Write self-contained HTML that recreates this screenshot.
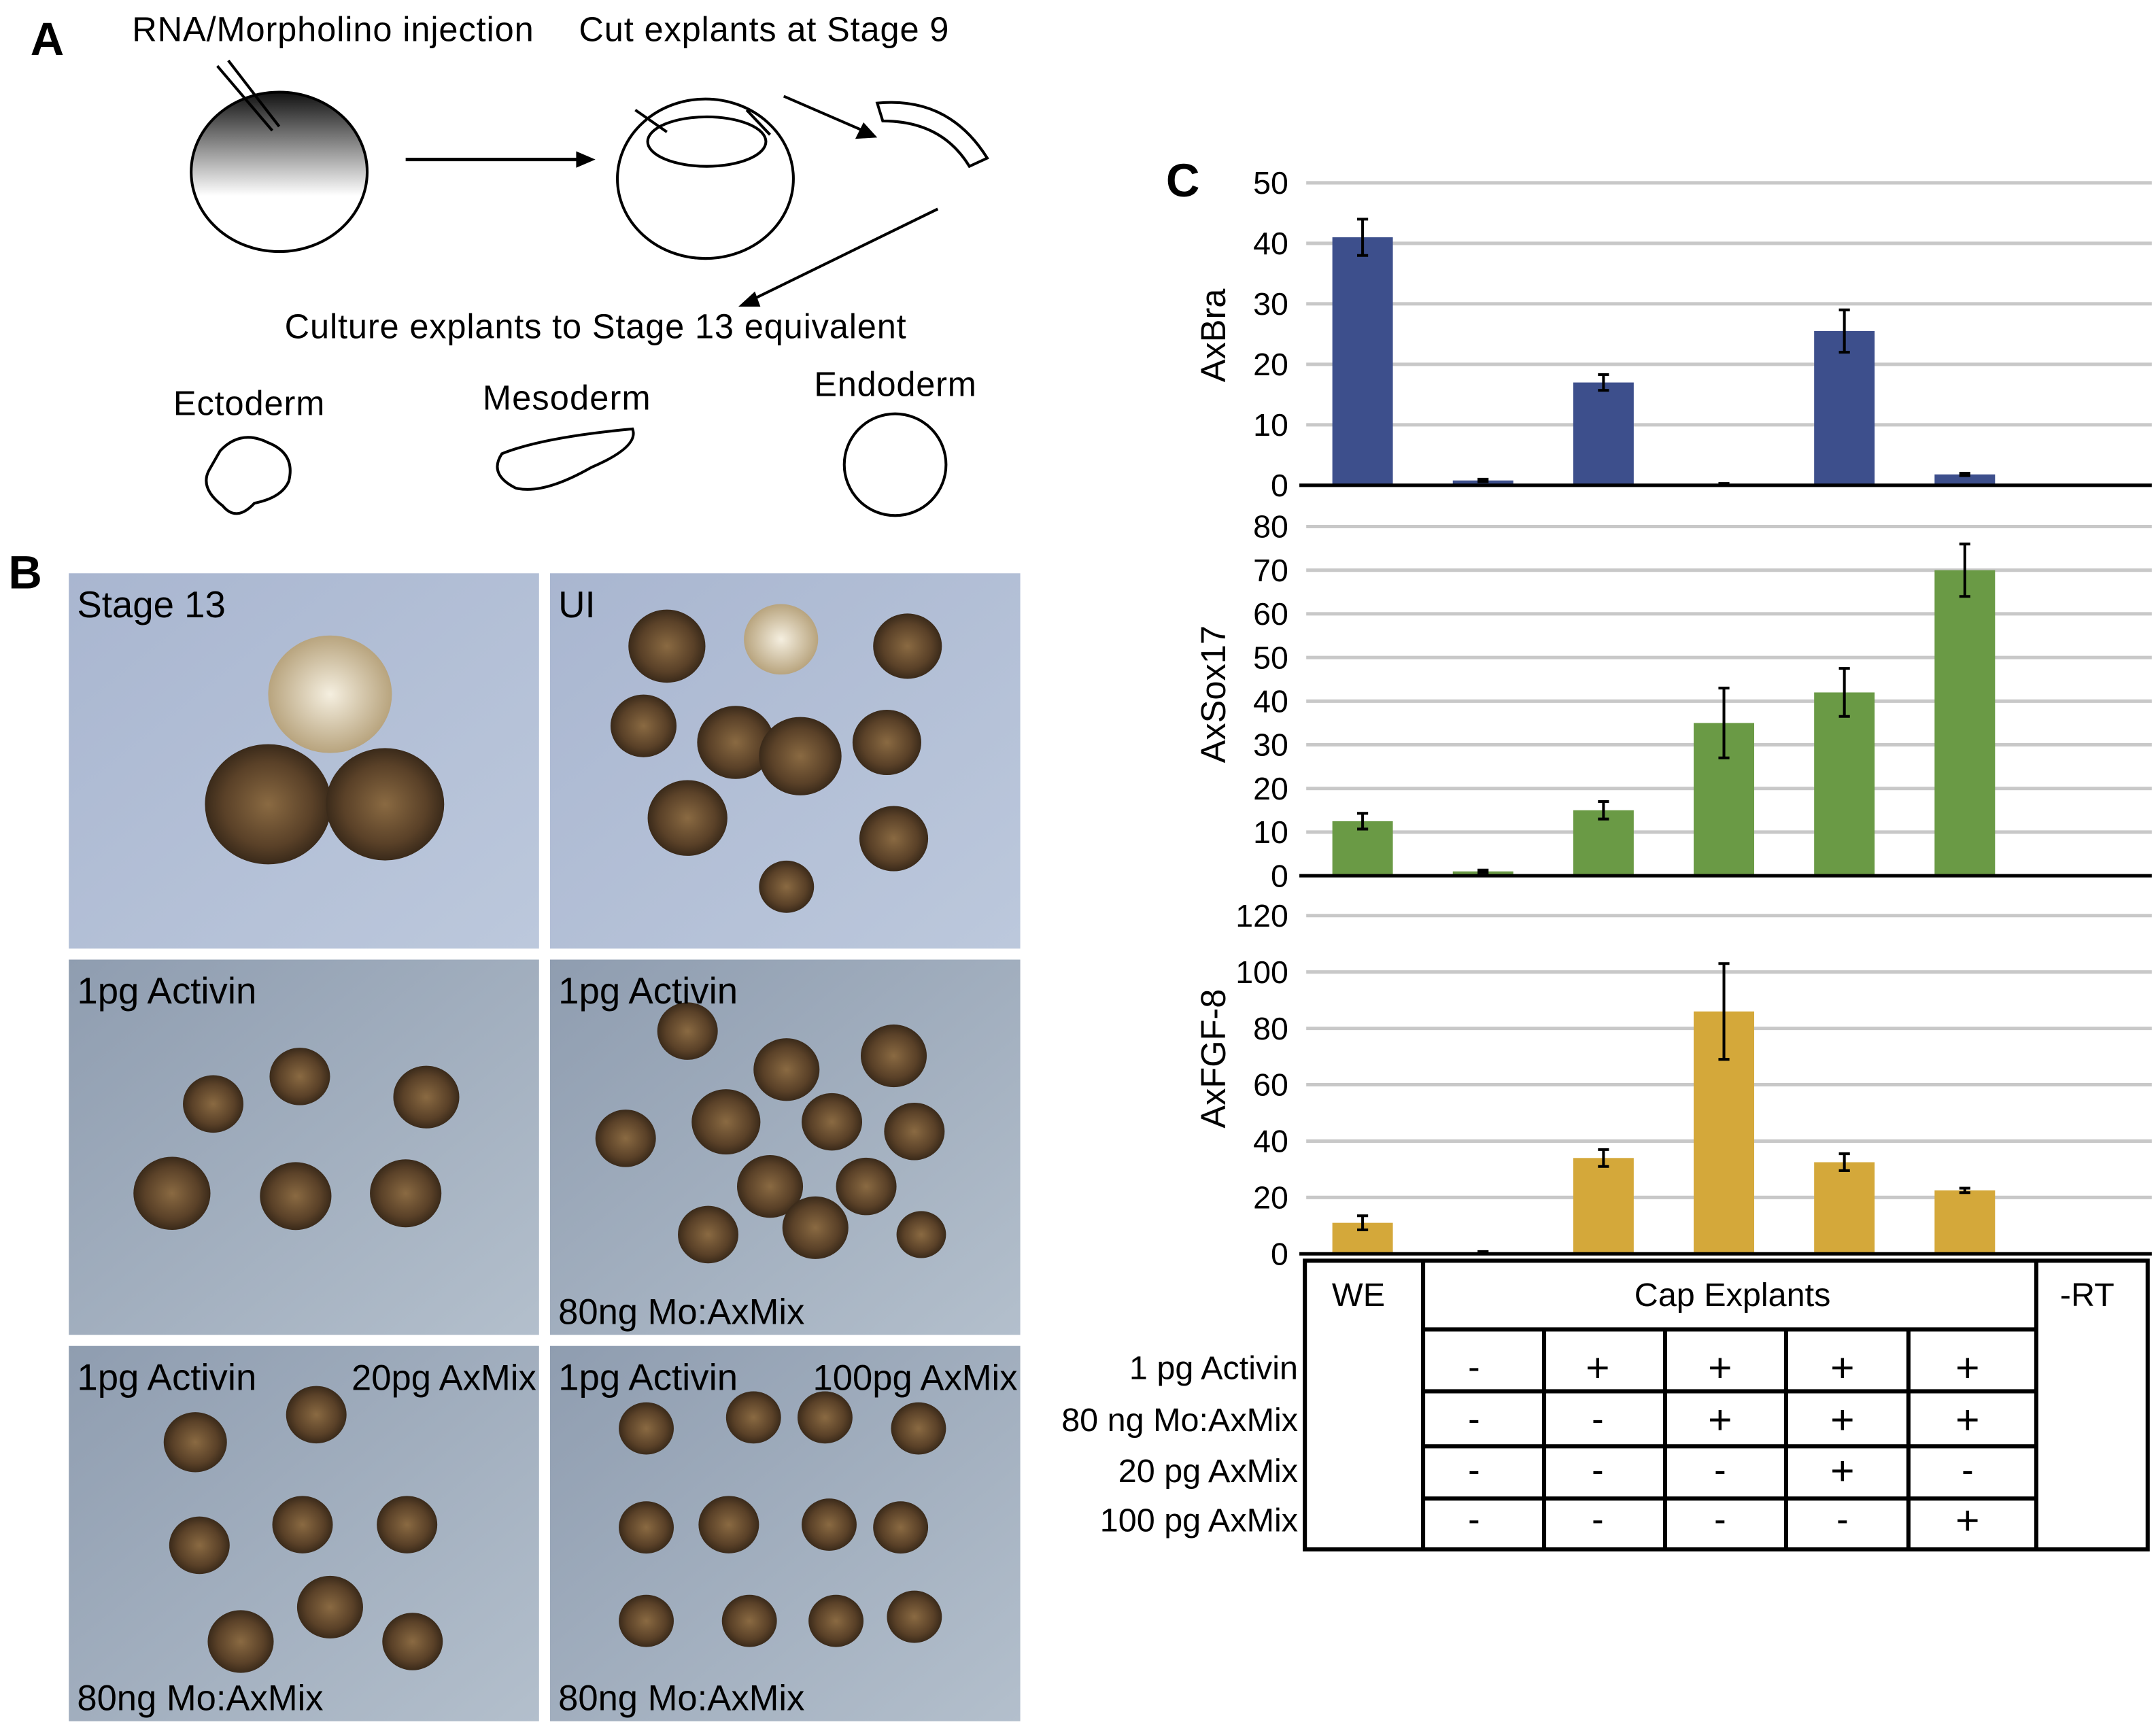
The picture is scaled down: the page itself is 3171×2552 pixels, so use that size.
<!DOCTYPE html>
<html><head><meta charset="utf-8"><style>
html,body{margin:0;padding:0;background:#fff;}
svg{display:block;font-family:"Liberation Sans",sans-serif;}
</style></head><body>
<svg id="fig" width="3171" height="2552" viewBox="0 0 1568 1262" xmlns="http://www.w3.org/2000/svg">
<defs>
<linearGradient id="egg" x1="0" y1="0" x2="0" y2="1"><stop offset="0" stop-color="#111"/><stop offset="0.65" stop-color="#fff"/></linearGradient>
<linearGradient id="bg1" x1="0" y1="0" x2="1" y2="1"><stop offset="0" stop-color="#a9b6d0"/><stop offset="1" stop-color="#bcc8dc"/></linearGradient>
<linearGradient id="bg2" x1="0" y1="0" x2="1" y2="1"><stop offset="0" stop-color="#8f9db0"/><stop offset="1" stop-color="#b3bfcc"/></linearGradient>
<radialGradient id="emb"><stop offset="0" stop-color="#8a6a42"/><stop offset="0.7" stop-color="#5a4128"/><stop offset="1" stop-color="#3a2a1a"/></radialGradient>
<radialGradient id="embL"><stop offset="0" stop-color="#f5efe0"/><stop offset="1" stop-color="#b8a47e"/></radialGradient>
</defs>

<!-- Panel A -->
<g>
<text x="22" y="40" font-size="34" font-weight="bold">A</text>
<text x="96" y="30" font-size="25" textLength="292">RNA/Morpholino injection</text>
<text x="421" y="30" font-size="25" textLength="269">Cut explants at Stage 9</text>
<ellipse cx="203" cy="125" rx="64" ry="58" fill="url(#egg)" stroke="#000" stroke-width="2"/>
<line x1="158" y1="48" x2="198" y2="95" stroke="#000" stroke-width="2"/><line x1="166" y1="44" x2="203" y2="92" stroke="#000" stroke-width="2"/>
<line x1="295" y1="116" x2="425" y2="116" stroke="#000" stroke-width="2.5"/><polygon points="433,116 419,110 419,122" fill="#000"/>
<ellipse cx="513" cy="130" rx="64" ry="58" fill="#fff" stroke="#000" stroke-width="2"/>
<ellipse cx="514" cy="103" rx="43" ry="18" fill="none" stroke="#000" stroke-width="2"/>
<line x1="462" y1="80" x2="485" y2="96" stroke="#000" stroke-width="2"/><line x1="543" y1="80" x2="560" y2="98" stroke="#000" stroke-width="2"/>
<line x1="570" y1="70" x2="630" y2="96" stroke="#000" stroke-width="2"/><polygon points="638,100 622,101 628,89" fill="#000"/>
<path d="M638,75 Q690,70 718,115 L705,121 Q685,88 642,88 Z" fill="#fff" stroke="#000" stroke-width="2"/>
<line x1="682" y1="152" x2="545" y2="219" stroke="#000" stroke-width="2"/><polygon points="537,223 549,212 553,223" fill="#000"/>
<text x="207" y="246" font-size="25" textLength="452">Culture explants to Stage 13 equivalent</text>
<text x="126" y="302" font-size="25" textLength="110">Ectoderm</text>
<text x="351" y="298" font-size="25" textLength="122">Mesoderm</text>
<text x="592" y="288" font-size="25" textLength="118">Endoderm</text>
<path d="M160,328 Q175,312 195,322 Q215,330 210,350 Q205,362 185,366 Q172,380 162,368 Q145,355 152,342 Z" fill="none" stroke="#000" stroke-width="2"/>
<path d="M365,330 Q395,318 460,312 Q465,325 430,340 Q395,360 375,355 Q355,345 365,330 Z" fill="none" stroke="#000" stroke-width="2"/>
<circle cx="651" cy="338" r="37" fill="none" stroke="#000" stroke-width="2"/>
</g>

<!-- Panel B -->
<g>
<text x="6" y="428" font-size="34" font-weight="bold">B</text>
<g id="photos"></g>
</g>

<!-- Panel C -->
<g>
<text x="848" y="143" font-size="34" font-weight="bold">C</text>
<g id="charts"></g>
<g id="table"></g>
</g>
</svg>
<script>
const NS='http://www.w3.org/2000/svg';
function mk(tag,attrs,parent,txt){const e=document.createElementNS(NS,tag);for(const k in attrs)e.setAttribute(k,attrs[k]);if(txt!==undefined)e.textContent=txt;parent.appendChild(e);return e;}

// ---- photos ----
const photoLabels=[["Stage 13","",""],["UI","",""],["1pg Activin","",""],["1pg Activin","","80ng Mo:AxMix"],["1pg Activin","20pg AxMix","80ng Mo:AxMix"],["1pg Activin","100pg AxMix","80ng Mo:AxMix"]];
const photosG=document.getElementById('photos');
const cellX=[50,400],cellY=[417,698,979],cw=342,ch=273;
const embryoSets=[
 [[190,88,45,"embL"],[145,168,46,"emb"],[230,168,43,"emb"]],
 [[85,53,28,"emb"],[168,48,27,"embL"],[260,53,25,"emb"],[68,111,24,"emb"],[135,123,28,"emb"],[182,133,30,"emb"],[245,123,25,"emb"],[100,178,29,"emb"],[250,193,25,"emb"],[172,228,20,"emb"]],
 [[105,105,22,"emb"],[168,85,22,"emb"],[260,100,24,"emb"],[75,170,28,"emb"],[165,172,26,"emb"],[245,170,26,"emb"]],
 [[100,52,22,"emb"],[172,80,24,"emb"],[250,70,24,"emb"],[55,130,22,"emb"],[128,118,25,"emb"],[205,118,22,"emb"],[265,125,22,"emb"],[160,165,24,"emb"],[230,165,22,"emb"],[115,200,22,"emb"],[193,195,24,"emb"],[270,200,18,"emb"]],
 [[92,70,23,"emb"],[180,50,22,"emb"],[95,145,22,"emb"],[170,130,22,"emb"],[246,130,22,"emb"],[190,190,24,"emb"],[125,215,24,"emb"],[250,215,22,"emb"]],
 [[70,60,20,"emb"],[148,52,20,"emb"],[200,52,20,"emb"],[268,60,20,"emb"],[70,132,20,"emb"],[130,130,22,"emb"],[203,130,20,"emb"],[255,132,20,"emb"],[70,200,20,"emb"],[145,200,20,"emb"],[208,200,20,"emb"],[265,197,20,"emb"]]
];
for(let i=0;i<6;i++){
 const x=cellX[i%2],y=cellY[Math.floor(i/2)];
 const g=mk('g',{},photosG);
 
 
 mk('rect',{x:x,y:y,width:cw,height:ch,fill:i<2?'url(#bg1)':'url(#bg2)'},g);
 embryoSets[i].forEach(e=>{const el=mk('ellipse',{cx:x+e[0],cy:y+e[1],rx:e[2],ry:e[2]*0.95,fill:'url(#'+e[3]+')'},g);
  
  });
 const L=photoLabels[i];
 const t1=mk('text',{x:x+6,y:y+32,'font-size':27},g,L[0]);
 
 
 if(L[1]){const t=mk('text',{x:x+cw-2,y:y+32,'font-size':26,'text-anchor':'end'},g,L[1]);
  
  }
 if(L[2]){const t=mk('text',{x:x+6,y:y+ch-8,'font-size':26},g,L[2]);
  
  }
}

// ---- charts ----
const categories=["WE","-","Activin","Activin+Mo","Activin+Mo+20pg","Activin+Mo+100pg"];
const braValues=[41,0.8,17,0.2,25.5,1.8];
const braErrors=[3,0.2,1.3,0.1,3.5,0.2];
const sox17Values=[12.5,1,15,35,42,70];
const sox17Errors=[1.8,0.3,2,8,5.5,6];
const fgf8Values=[11,0.5,34,86,32.5,22.5];
const fgf8Errors=[2.5,0.3,3,17,3,0.8];
const braTicks=[0,10,20,30,40,50];
const sox17Ticks=[0,10,20,30,40,50,60,70,80];
const fgf8Ticks=[0,20,40,60,80,100,120];
const chartsG=document.getElementById('charts');
const barCenters0=991,barStep=87.6,barW=44;
function xPos(i){return barCenters0+i*barStep;}
function drawChart(name,title,vals,errs,ticks,y0,yTop,color,titleY){
 const g=mk('g',{},chartsG);
 
 
 const max=ticks[ticks.length-1];
 const y=v=>y0-(v/max)*(y0-yTop);
 ticks.forEach(t=>{
  if(t>0){const l=mk('line',{x1:950,x2:1565,y1:y(t),y2:y(t),stroke:'#c8c8c8','stroke-width':2.5},g);
   
   }
  const tx=mk('text',{x:937,y:y(t)+8,'font-size':23,'text-anchor':'end'},g,String(t));
  
  
 });
 vals.forEach((v,i)=>{
  const r=mk('rect',{x:xPos(i)-barW/2,y:y(v),width:barW,height:y0-y(v),fill:color},g);
  
  
  const e=errs[i],cx=xPos(i);
  const eb=mk('path',{d:`M${cx},${y(v+e)}V${y(v-e)}M${cx-4},${y(v+e)}H${cx+4}M${cx-4},${y(v-e)}H${cx+4}`,stroke:'#000','stroke-width':2,fill:'none'},g);
  
  
 });
 const ax=mk('line',{x1:945,x2:1565,y1:y0,y2:y0,stroke:'#000','stroke-width':2.5},g);
 
 
 const tt=mk('text',{x:0,y:0,'font-size':25,'text-anchor':'middle',transform:`translate(891,${titleY}) rotate(-90)`},g,title);
 
 
}
drawChart('axbra','AxBra',braValues,braErrors,braTicks,353,133,'#3d4f8c',244);
drawChart('axsox17','AxSox17',sox17Values,sox17Errors,sox17Ticks,637,383,'#6a9a45',505);
drawChart('axfgf8','AxFGF-8',fgf8Values,fgf8Errors,fgf8Ticks,912,666,'#d4a83a',770);

// ---- table ----
const rowLabels=["1 pg Activin","80 ng Mo:AxMix","20 pg AxMix","100 pg AxMix"];
const signs=[["-","+","+","+","+"],["-","-","+","+","+"],["-","-","-","+","-"],["-","-","-","-","+"]];
const tg=document.getElementById('table');
const tb=mk('rect',{x:949,y:917,width:613,height:210,fill:'none',stroke:'#000','stroke-width':3},tg);


[[1035,917,1035,1127],[1481,917,1481,1127],[1035,967,1481,967],[1035,1012,1481,1012],[1035,1052,1481,1052],[1035,1090,1481,1090],
 [1123,967,1123,1127],[1211,967,1211,1127],[1299,967,1299,1127],[1388,967,1388,1127]].forEach(a=>mk('line',{x1:a[0],y1:a[1],x2:a[2],y2:a[3],stroke:'#000','stroke-width':3},tg));
[["WE",988,950],["Cap Explants",1260,950],["-RT",1518,950]].forEach(h=>{const t=mk('text',{x:h[1],y:h[2],'font-size':24,'text-anchor':'middle'},tg,h[0]);
 
 });
const rowY=[1003,1041,1078,1114],colX=[1072,1162,1251,1340,1431];
rowLabels.forEach((l,r)=>{const t=mk('text',{x:944,y:rowY[r],'font-size':24,'text-anchor':'end'},tg,l);
 
 
 signs[r].forEach((s,c)=>{const st=mk('text',{x:colX[c],y:rowY[r]+(s=='+'?2:0),'font-size':s=='+'?30:26,'text-anchor':'middle'},tg,s);
  
  });
});
</script>
</body></html>
